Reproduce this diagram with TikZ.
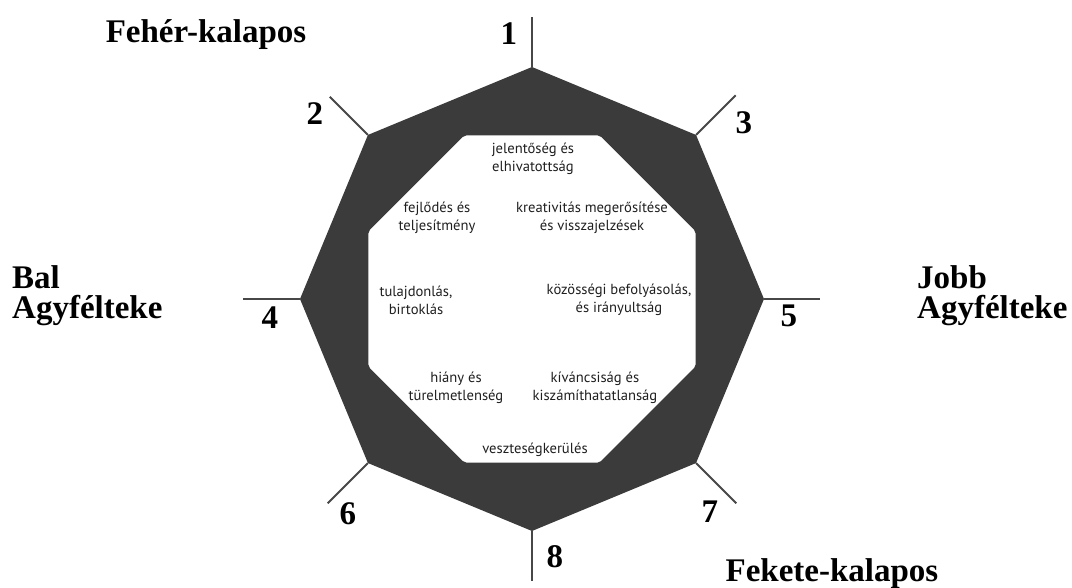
\documentclass[tikz,border=0pt]{standalone}
\usepackage{fontspec}
\setmainfont{Liberation Serif}
\newfontfamily\boxfont{PT Sans}
\usetikzlibrary{positioning}

\begin{document}
\begin{tikzpicture}[
    x=1pt, y=1pt,
    ring/.style      = {fill=black!77, even odd rule},
    spike/.style     = {draw=black!72, line width=1.8pt},
    numlabel/.style  = {font=\fontsize{33}{30}\selectfont\bfseries, inner sep=0pt},
    hattitle/.style  = {font=\fontsize{33}{30}\selectfont\bfseries, inner sep=0pt, align=left},
    trait/.style     = {font=\boxfont\fontsize{14.6}{18}\selectfont, text=black!88,
                        align=center, inner sep=0pt},
]
    \useasboundingbox (-532,-289) rectangle (540,299);

    %Corners of the two octagons
    \foreach \k in {0,...,7} {
        \coordinate (o\k) at (90-45*\k:232);
        \coordinate (i\k) at (67.5-45*\k:177);
    }

    %Dark ring
    \fill[ring] (o0) -- (o1) -- (o2) -- (o3) -- (o4) -- (o5) -- (o6) -- (o7) -- cycle
        [rounded corners=2pt] (i0) -- (i1) -- (i2) -- (i3) -- (i4) -- (i5) -- (i6) -- (i7) -- cycle;

    %Spikes and numbers
    \foreach \k/\a/\len/\n/\lx/\ly in {0/90/50/1/-23/265, 1/45/56/3/212/176,
                                      2/0/56/5/257/-17, 3/-45/57/7/178/-213,
                                      4/-90/50/8/23/-258, 5/-135/57/6/-184/-215,
                                      6/180/57/4/-262/-19, 7/135/54/2/-217/185} {
        \coordinate (t\k) at (\a:232+\len);
        \draw[spike] (o\k) -- (t\k);
        \node[numlabel] (num\n) at (\lx,\ly) {\n};
    }

    %Titles
    \node[hattitle, anchor=base]       (white) at (-326,256)  {Fehér-kalapos};
    \node[hattitle, anchor=base]       (black) at (300,-283)  {Fekete-kalapos};
    \node[hattitle, anchor=north west] (left)  at (-520,34)   {Bal\\Agyfélteke};
    \node[hattitle, anchor=north west] (right) at (385,34)    {Jobb\\Agyfélteke};

    %Inner texts
    \node[trait] (meaning)   at (1,140)    {jelentőség és\\elhivatottság};
    \node[trait] (growth)    at (-95,81)   {fejlődés és\\teljesítmény};
    \node[trait] (creative)  at (60,81)    {kreativitás megerősítése\\és visszajelzések};
    \node[trait] (owner)     at (-116,-1)  {tulajdonlás,\\birtoklás};
    \node[trait] (social)    at (87,-1)    {közösségi befolyásolás,\\és irányultság};
    \node[trait] (scarcity)  at (-76,-89)  {hiány és\\türelmetlenség};
    \node[trait] (curiosity) at (63,-89)   {kíváncsiság és\\kiszámíthatatlanság};
    \node[trait] (loss)      at (3,-151)   {veszteségkerülés};
\end{tikzpicture}
\end{document}
